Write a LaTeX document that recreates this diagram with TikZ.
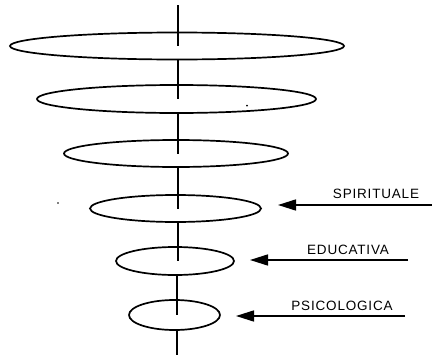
\documentclass[tikz,border=0pt]{standalone}
\usepackage{fontspec}
\setmainfont{Liberation Sans}
\newfontfamily\lblfont[LetterSpace=6]{Liberation Sans}
\usetikzlibrary{shapes.geometric,arrows.meta}
\begin{document}
\begin{tikzpicture}[x=1pt,y=-1pt,
  disc/.style={draw, ellipse, line width=1.7pt, inner sep=0pt},
  axis/.style={line width=1.6pt},
  pointer/.style={line width=1.6pt, -{Triangle[length=18pt,width=11pt]}},
  lbl/.style={font=\lblfont\fontsize{13.5}{15}\selectfont, inner sep=0pt}]
\useasboundingbox (0,0) rectangle (432,359);
\node[disc, minimum width=334pt, minimum height=27pt] (e1) at (177,46) {};
\node[disc, minimum width=279pt, minimum height=28pt] (e2) at (176.5,99) {};
\node[disc, minimum width=224pt, minimum height=27pt] (e3) at (176,153.5) {};
\node[disc, minimum width=171pt, minimum height=27pt] (e4) at (175.5,208.5) {};
\node[disc, minimum width=118pt, minimum height=28pt] (e5) at (175,261) {};
\node[disc, minimum width=91pt, minimum height=30pt] (e6) at (174.5,315) {};
\coordinate (top) at (178,5);
\coordinate (bot) at (177,355);
\draw[axis] (top) -- (178,46);
\draw[axis] (178,59.5) -- (178,99);
\draw[axis] (178,113) -- (178,153.5);
\draw[axis] (178,167) -- (178,208.5);
\draw[axis] (178,222) -- (178,261);
\draw[axis] (177,275) -- (177,315);
\draw[axis] (177,330) -- (bot);
\coordinate (s1) at (432,205);
\coordinate (s2) at (278,205);
\coordinate (d1) at (408,260);
\coordinate (d2) at (250,260);
\coordinate (p1) at (405,316);
\coordinate (p2) at (236,316);
\draw[pointer] (s1) -- (s2);
\draw[pointer] (d1) -- (d2);
\draw[pointer] (p1) -- (p2);
\node[lbl] (ls) at (376,194) {SPIRITUALE};
\node[lbl] (ld) at (348,250) {EDUCATIVA};
\node[lbl] (lp) at (342,306) {PSICOLOGICA};
\fill (247,105.5) circle (1pt);
\fill (58,203) circle (0.9pt);
\end{tikzpicture}
\end{document}
